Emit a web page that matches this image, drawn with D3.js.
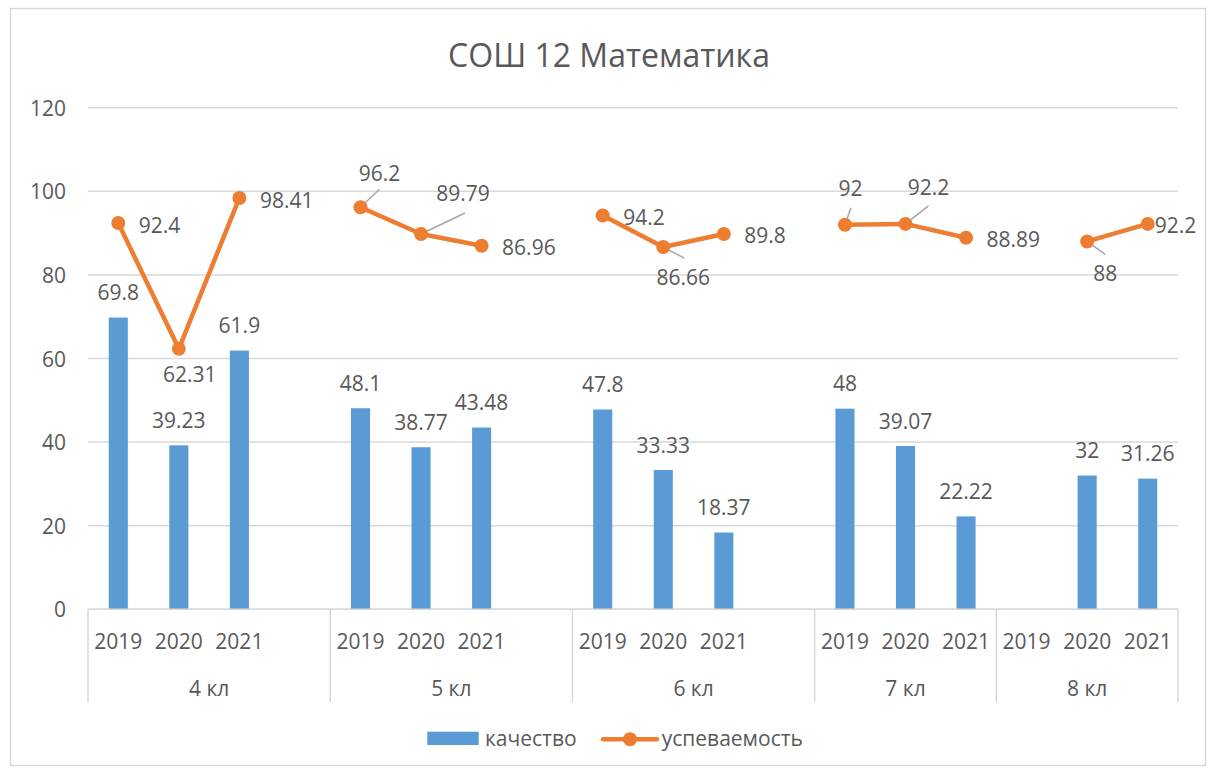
<!DOCTYPE html>
<html>
<head>
<meta charset="utf-8">
<script src="https://cdn.jsdelivr.net/npm/d3@7"></script>
<style>
  html, body { margin: 0; padding: 0; background: #ffffff; }
  svg { display: block; font-family: "Open Sans", "Noto Sans", sans-serif; }
</style>
</head>
<body>
<svg id="chart" width="1209" height="772"></svg>
<script>
// ---------- data ----------
const chartTitle = "СОШ 12 Математика";
const groupNames = ["4 кл", "5 кл", "6 кл", "7 кл", "8 кл"];
// categories of the two-level axis (blank year = empty spacer slot)
const categoryYears = ["2019","2020","2021","", "2019","2020","2021","", "2019","2020","2021","", "2019","2020","2021", "2019","2020","2021"];
const categoryGroups = ["4 кл","4 кл","4 кл","4 кл", "5 кл","5 кл","5 кл","5 кл", "6 кл","6 кл","6 кл","6 кл", "7 кл","7 кл","7 кл", "8 кл","8 кл","8 кл"];
const seriesNames = ["качество", "успеваемость"];
const kachestvo = [69.8, 39.23, 61.9, null, 48.1, 38.77, 43.48, null, 47.8, 33.33, 18.37, null, 48, 39.07, 22.22, null, 32, 31.26];
const uspevaemost = [92.4, 62.31, 98.41, null, 96.2, 89.79, 86.96, null, 94.2, 86.66, 89.8, null, 92, 92.2, 88.89, null, 88, 92.2];
const yTicks = [0, 20, 40, 60, 80, 100, 120];

// ---------- label placement for the line series (style, not data) ----------
// type: r = right of point, c = centered at offset; leader = end of leader line
const lineLabelLayout = [
  {t:"r"}, {t:"c", dx:11, dy:26}, {t:"r"}, null,
  {t:"c", dx:19, dy:-34, leader:[19,-18]}, {t:"c", dx:42, dy:-41, leader:[44,-21]}, {t:"r"}, null,
  {t:"r"}, {t:"c", dx:20, dy:30, leader:[21,11]}, {t:"r"}, null,
  {t:"c", dx:5.5, dy:-36, leader:[6,-17]}, {t:"c", dx:23, dy:-36, leader:[23,-18]}, {t:"r"},
  null, {t:"c", dx:18, dy:32, leader:[18,13]}, {t:"r", off:7}
];

// ---------- styles ----------
const TXT = "#595959", GRID = "#D9D9D9", BLUE = "#5B9BD5", ORANGE = "#ED7D31";
const FS = 21;

const svg = d3.select("#chart");
const plot = {left: 88, right: 1178, top: 107.7, bottom: 609.3};

// border
svg.append("rect").attr("x", 10.5).attr("y", 8.5).attr("width", 1195).attr("height", 757)
  .attr("fill", "#fff").attr("stroke", GRID).attr("stroke-width", 1.5);

// title
svg.append("text").attr("x", 609).attr("y", 66.5).attr("text-anchor", "middle")
  .attr("fill", TXT).attr("font-size", 32).text(chartTitle);

const idx = d3.range(categoryYears.length);
const x = d3.scaleBand().domain(idx).range([plot.left, plot.right]).padding(0);
const y = d3.scaleLinear().domain([0, 120]).range([plot.bottom, plot.top]);

// gridlines
svg.append("g").selectAll("line").data(yTicks).join("line")
  .attr("x1", plot.left).attr("x2", plot.right)
  .attr("y1", d => y(d)).attr("y2", d => y(d))
  .attr("stroke", GRID).attr("stroke-width", 1.5);

// y axis labels
const yAxis = d3.axisLeft(y).tickValues(yTicks).tickSize(0).tickPadding(0).tickFormat(d3.format("d"));
const yg = svg.append("g").attr("transform", `translate(66,0)`).call(yAxis);
yg.select(".domain").remove();
yg.selectAll("text").attr("fill", TXT).attr("font-size", FS).attr("font-family", "Open Sans").attr("dy", "0.36em");

// bars
const bw = x.bandwidth() * 0.315;
const cx = i => x(i) + x.bandwidth() / 2;
const barData = idx.filter(i => kachestvo[i] != null);
svg.append("g").selectAll("rect").data(barData).join("rect")
  .attr("x", i => cx(i) - bw / 2).attr("width", bw)
  .attr("y", i => y(kachestvo[i])).attr("height", i => y(0) - y(kachestvo[i]))
  .attr("fill", BLUE);

// bar labels
svg.append("g").selectAll("text").data(barData).join("text")
  .attr("x", i => cx(i)).attr("y", i => y(kachestvo[i]) - 25)
  .attr("dy", "0.36em").attr("text-anchor", "middle")
  .attr("fill", TXT).attr("font-size", FS).text(i => kachestvo[i]);

// category axis: base line + group separators
svg.append("line").attr("x1", plot.left).attr("x2", plot.right)
  .attr("y1", y(0)).attr("y2", y(0)).attr("stroke", GRID).attr("stroke-width", 1.5);

const groupSpans = groupNames.map(g => {
  const members = idx.filter(i => categoryGroups[i] === g);
  return {name: g, x0: x(members[0]), x1: x(members[members.length - 1]) + x.bandwidth()};
});
const sepX = [plot.left].concat(groupSpans.map(s => s.x1));
svg.append("g").selectAll("line").data(sepX).join("line")
  .attr("x1", d => d).attr("x2", d => d)
  .attr("y1", y(0)).attr("y2", 702)
  .attr("stroke", GRID).attr("stroke-width", 1.5);

// year labels
svg.append("g").selectAll("text").data(idx.filter(i => categoryYears[i] !== "")).join("text")
  .attr("x", i => cx(i)).attr("y", 641.7).attr("dy", "0.36em").attr("text-anchor", "middle")
  .attr("fill", TXT).attr("font-size", FS).text(i => categoryYears[i]);

// group labels
svg.append("g").selectAll("text").data(groupSpans).join("text")
  .attr("x", d => (d.x0 + d.x1) / 2).attr("y", 688).attr("dy", "0.36em").attr("text-anchor", "middle")
  .attr("fill", TXT).attr("font-size", FS).text(d => d.name);

// line series (breaks at nulls)
const line = d3.line().defined(i => uspevaemost[i] != null)
  .x(i => cx(i)).y(i => y(uspevaemost[i]));
svg.append("path").datum(idx).attr("d", line)
  .attr("fill", "none").attr("stroke", ORANGE).attr("stroke-width", 4.5)
  .attr("stroke-linejoin", "round").attr("stroke-linecap", "round");

const ptData = idx.filter(i => uspevaemost[i] != null);

// leader lines
svg.append("g").selectAll("line").data(ptData.filter(i => lineLabelLayout[i] && lineLabelLayout[i].leader)).join("line")
  .attr("x1", i => cx(i)).attr("y1", i => y(uspevaemost[i]))
  .attr("x2", i => cx(i) + lineLabelLayout[i].leader[0]).attr("y2", i => y(uspevaemost[i]) + lineLabelLayout[i].leader[1])
  .attr("stroke", "#A6A6A6").attr("stroke-width", 1.5);

svg.append("g").selectAll("circle").data(ptData).join("circle")
  .attr("cx", i => cx(i)).attr("cy", i => y(uspevaemost[i])).attr("r", 7)
  .attr("fill", ORANGE);

// line labels
svg.append("g").selectAll("text").data(ptData).join("text")
  .each(function(i) {
    const L = lineLabelLayout[i];
    const px = cx(i), py = y(uspevaemost[i]);
    const t = d3.select(this);
    if (L.t === "r") {
      t.attr("x", px + (L.off != null ? L.off : 20.5)).attr("y", py + 2).attr("text-anchor", "start");
    } else {
      t.attr("x", px + L.dx).attr("y", py + L.dy).attr("text-anchor", "middle");
    }
  })
  .attr("dy", "0.36em").attr("fill", TXT).attr("font-size", FS).text(i => uspevaemost[i]);

// legend
const lg = svg.append("g");
lg.append("rect").attr("x", 427.3).attr("y", 731.7).attr("width", 51.4).attr("height", 13.3).attr("fill", BLUE);
lg.append("text").attr("x", 485).attr("y", 738.5).attr("dy", "0.36em").attr("fill", TXT)
  .attr("font-size", FS).text(seriesNames[0]);
lg.append("line").attr("x1", 603).attr("x2", 657).attr("y1", 739.3).attr("y2", 739.3)
  .attr("stroke", ORANGE).attr("stroke-width", 4.5).attr("stroke-linecap", "round");
lg.append("circle").attr("cx", 630).attr("cy", 739.3).attr("r", 7).attr("fill", ORANGE);
lg.append("text").attr("x", 661.7).attr("y", 738.5).attr("dy", "0.36em").attr("fill", TXT)
  .attr("font-size", FS).text(seriesNames[1]);
</script>
</body>
</html>
